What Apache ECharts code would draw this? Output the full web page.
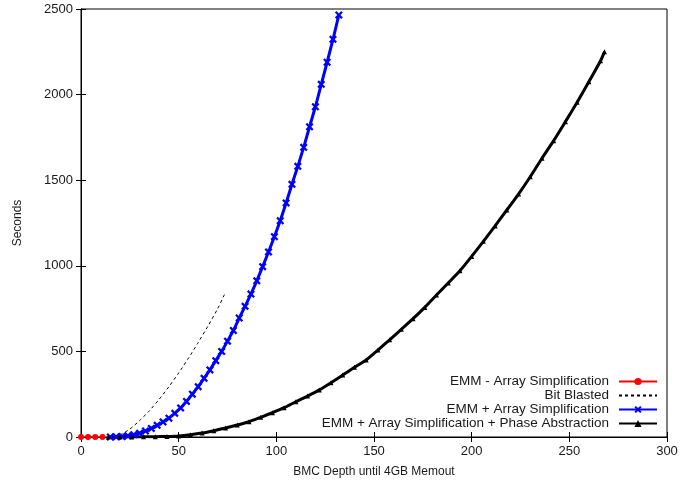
<!DOCTYPE html>
<html>
<head>
<meta charset="utf-8">
<script src="https://cdn.jsdelivr.net/npm/echarts@6/dist/echarts.min.js"></script>
<style>html,body{margin:0;padding:0;background:#fff;}#c{width:699px;height:485px;}</style>
</head>
<body>
<div id="c"></div>
<script>
// ---- data ----
const xTicks = [0, 50, 100, 150, 200, 250, 300];
const yTicks = [0, 500, 1000, 1500, 2000, 2500];

const seriesNames = [
  'EMM - Array Simplification',
  'Bit Blasted',
  'EMM + Array Simplification',
  'EMM + Array Simplification + Phase Abstraction'
];

const redX = [0, 3.6, 7.3, 11];
const redY = [0, 0, 0, 0];

const bitX = [17, 20, 25, 30, 35, 40, 45, 50, 55, 60, 65, 70, 73.8];
const bitY = [0, 12, 46, 96, 153, 220, 294, 374, 460, 552, 648, 750, 841];

const blueX = [15, 18, 21, 24, 27, 30, 33, 36, 39, 42, 45, 48, 51, 54, 57, 60, 63, 66, 69, 72,
               75, 78, 81, 84, 87, 90, 93, 96, 99, 102, 105, 108, 111, 114, 117, 120, 123, 126, 129, 132];
const blueY = [0, 1, 3, 7, 13, 22, 35, 50, 68, 88, 110, 138, 170, 208, 250, 294, 343, 392, 446, 500,
               560, 622, 695, 763, 835, 912, 995, 1081, 1170, 1263, 1367, 1476, 1581, 1692, 1812, 1929, 2060, 2189, 2323, 2465];

const blackX = [14, 20, 26, 32, 38, 44, 50, 56, 62, 68, 74, 80, 86, 92, 98, 104, 110, 116, 122, 128,
                134, 140, 146, 152, 158, 164, 170, 176, 182, 188, 194, 200, 206, 212, 218, 224, 230,
                236, 242, 248, 254, 260, 266, 268];
const blackY = [0, 0, 0, 1, 2, 3, 6, 13, 23, 37, 53, 70, 89, 115, 142, 171, 206, 239, 275, 317,
                362, 407, 450, 508, 568, 629, 691, 757, 829, 900, 971, 1055, 1143, 1233, 1326, 1419, 1520,
                1628, 1731, 1842, 1955, 2075, 2198, 2250];

const zip = (xs, ys) => xs.map((x, i) => [x, ys[i]]);

// ---- chart ----
const FONT = 'Liberation Sans, Arial, Helvetica, sans-serif';
const TXT = '#1a1a1a';
const crossPath = 'path://M2,0 L5,3 L8,0 L10,2 L7,5 L10,8 L8,10 L5,7 L2,10 L0,8 L3,5 L0,2 Z';

const chart = echarts.init(document.getElementById('c'), null, {renderer: 'canvas'});

const xMin = xTicks[0], xMax = xTicks[xTicks.length - 1];
const yMin = yTicks[0], yMax = yTicks[yTicks.length - 1];
const xInt = xTicks[1] - xTicks[0], yInt = yTicks[1] - yTicks[0];

const legendRowCenters = [379, 393, 407, 421];
const legendItemH = 9;
const legends = seriesNames.map((n, i) => ({
  data: [n],
  right: 41,
  top: legendRowCenters[i] - legendItemH / 2,
  orient: 'horizontal',
  align: 'right',
  itemWidth: 38,
  itemHeight: legendItemH,
  itemGap: 0,
  padding: 0,
  selectedMode: false,
  itemStyle: i === 1 ? {opacity: 0} : {},
  textStyle: {fontFamily: FONT, fontSize: 13.5, color: TXT, padding: [0, 5, 0, 0]}
}));

const option = {
  animation: false,
  backgroundColor: '#fff',
  textStyle: {fontFamily: FONT},
  grid: {left: 81, right: 32, top: 9, bottom: 48, show: true, borderColor: '#000', borderWidth: 1, backgroundColor: 'transparent'},
  legend: legends,
  xAxis: [{
    type: 'value', min: xMin, max: xMax, interval: xInt, position: 'bottom',
    name: 'BMC Depth until 4GB Memout', nameLocation: 'middle', nameGap: 29,
    nameTextStyle: {fontFamily: FONT, fontSize: 12, color: TXT},
    axisLine: {show: true, lineStyle: {color: '#000', width: 1}},
    axisTick: {show: true, inside: true, length: 5, lineStyle: {color: '#000'}},
    axisLabel: {fontFamily: FONT, fontSize: 13, color: TXT, margin: 8, formatter: v => String(v)},
    splitLine: {show: false}
  }, {
    type: 'value', min: xMin, max: xMax, interval: xInt, position: 'top',
    axisLine: {show: true, lineStyle: {color: '#000', width: 1}},
    axisTick: {show: true, inside: true, length: 5, lineStyle: {color: '#000'}},
    axisLabel: {show: false}, splitLine: {show: false}
  }],
  yAxis: [{
    type: 'value', min: yMin, max: yMax, interval: yInt, position: 'left',
    name: 'Seconds', nameLocation: 'middle', nameGap: 57, nameRotate: 90,
    nameTextStyle: {fontFamily: FONT, fontSize: 12, color: TXT},
    axisLine: {show: true, lineStyle: {color: '#000', width: 1}},
    axisTick: {show: true, inside: true, length: 5, lineStyle: {color: '#000'}},
    axisLabel: {fontFamily: FONT, fontSize: 13, color: TXT, margin: 8, formatter: v => String(v)},
    splitLine: {show: false}
  }, {
    type: 'value', min: yMin, max: yMax, interval: yInt, position: 'right',
    axisLine: {show: true, lineStyle: {color: '#000', width: 1}},
    axisTick: {show: true, inside: true, length: 5, lineStyle: {color: '#000'}},
    axisLabel: {show: false}, splitLine: {show: false}
  }],
  series: [
    {
      name: seriesNames[0], type: 'line', data: zip(redX, redY),
      xAxisIndex: 0, yAxisIndex: 0,
      color: '#ff0000',
      lineStyle: {color: '#ff0000', width: 1},
      itemStyle: {color: '#ff0000'},
      symbol: 'circle', symbolSize: 6, showSymbol: true, z: 5
    },
    {
      name: seriesNames[1], type: 'line', data: zip(bitX, bitY),
      xAxisIndex: 0, yAxisIndex: 0,
      color: '#000',
      lineStyle: {color: '#000', width: 1, type: [3, 3]},
      itemStyle: {color: '#000'},
      symbol: 'none', smooth: 0.2, z: 3
    },
    {
      name: seriesNames[2], type: 'line', data: zip(blueX, blueY),
      xAxisIndex: 0, yAxisIndex: 0,
      color: '#0000ff',
      lineStyle: {color: '#0000ff', width: 3},
      itemStyle: {color: '#0000ff'},
      symbol: crossPath, symbolSize: 8, showSymbol: true, showAllSymbol: true, z: 4
    },
    {
      name: seriesNames[3], type: 'line', data: zip(blackX, blackY),
      xAxisIndex: 0, yAxisIndex: 0,
      color: '#000',
      lineStyle: {color: '#000', width: 3},
      itemStyle: {color: '#000'},
      symbol: 'triangle', symbolSize: 5, showSymbol: true, showAllSymbol: true, smooth: 0.2, z: 4
    }
  ]
};
chart.setOption(option);
</script>
</body>
</html>
